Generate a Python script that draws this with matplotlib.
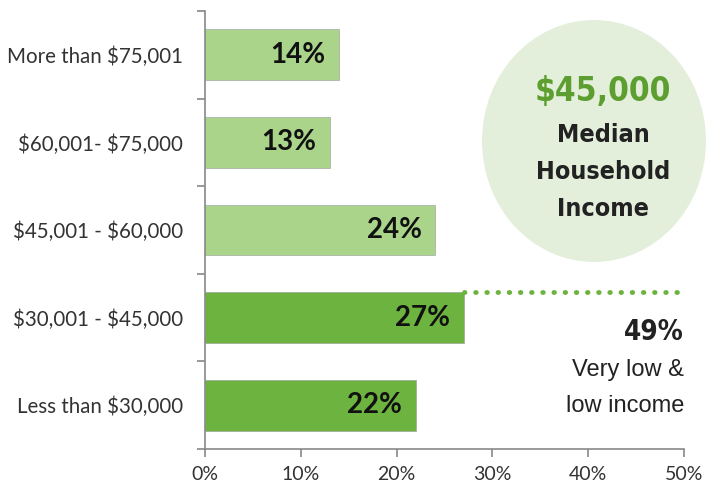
import matplotlib
matplotlib.use('Agg')
import matplotlib.pyplot as plt
from matplotlib.patches import Ellipse

plt.rcParams['text.parse_math'] = False

# data, bottom to top
categories = ["Less than $30,000", "$30,001 - $45,000", "$45,001 - $60,000",
              "$60,001- $75,000", "More than $75,001"]
shares = [22, 27, 24, 13, 14]
low_income = [True, True, False, False, False]
median_income = "$45,000"
low_share = "49%"

dark_green = "#6db33f"
light_green = "#a9d48a"
circle_fill = "#e3efdb"

fig = plt.figure(figsize=(7.06, 4.91), dpi=100)
ax = fig.add_axes([205 / 706, (491 - 449) / 491, (684 - 205) / 706, (449 - 11) / 491])

# circle behind everything
circ = Ellipse((594 / 706, 1 - 141 / 491), 224 / 706, 242 / 491,
               transform=fig.transFigure, facecolor=circle_fill, edgecolor="none", zorder=0)
fig.patches.append(circ)
ax.set_facecolor("none")

y = range(len(categories))
colors = [dark_green if f else light_green for f in low_income]
ax.barh(y, shares, height=0.58, color=colors, edgecolor="#999999", linewidth=0.4, zorder=2)

for i, v in enumerate(shares):
    ax.text(v - 1.4, i, "%d%%" % v, ha="right", va="center", fontsize=20,
            fontweight="bold", family="Lato", color="#111111", zorder=3)

# dotted line from the 27% bar to the right edge
ax.plot([shares[1], 50], [1 + 0.29, 1 + 0.29], linestyle=(0, (0.1, 2.2)), linewidth=3.5,
        dash_capstyle="round", color=dark_green, clip_on=False, zorder=3)

ax.set_xlim(0, 50)
ax.set_ylim(-0.5, len(categories) - 0.5)
ax.set_xticks(range(0, 51, 10))
ax.set_xticklabels(["%d%%" % t for t in range(0, 51, 10)], family="Lato", fontsize=14, color="#333333")
ax.set_yticks([i + 0.5 for i in range(-1, len(categories))])
ax.set_yticklabels([])
ax.set_yticks(list(y), minor=True)
ax.set_yticklabels(categories, minor=True, family="Lato", fontsize=14.8, color="#333333")
ax.tick_params(axis="y", which="minor", length=0, pad=16)
ax.tick_params(axis="y", which="major", length=6, color="#888888", width=1.2)
ax.tick_params(axis="x", length=6, color="#888888", width=1.2, pad=6)

for s in ["top", "right"]:
    ax.spines[s].set_visible(False)
for s in ["left", "bottom"]:
    ax.spines[s].set_color("#888888")
    ax.spines[s].set_linewidth(1.2)

# circle text
cx = 603 / 706
fig.text(cx, 1 - 92 / 491, median_income, ha="center", va="center", fontsize=24,
         fontweight="bold", family="DejaVu Sans", fontstretch="condensed", color="#5c9e30")
for yy, t in [(135, "Median"), (172, "Household"), (209, "Income")]:
    fig.text(cx, 1 - yy / 491, t, ha="center", va="center", fontsize=18,
             fontweight="bold", family="DejaVu Sans", fontstretch="condensed", color="#222222")

# low income note
fig.text(684 / 706, 1 - 332 / 491, low_share, ha="right", va="center", fontsize=20,
         fontweight="bold", family="DejaVu Sans", fontstretch="condensed", color="#222222")
fig.text(684 / 706, 1 - 370 / 491, "Very low &", ha="right", va="center", fontsize=17,
         family="Liberation Sans", color="#222222")
fig.text(684 / 706, 1 - 406 / 491, "low income", ha="right", va="center", fontsize=17,
         family="Liberation Sans", color="#222222")

fig.savefig("out.png", dpi=100)
